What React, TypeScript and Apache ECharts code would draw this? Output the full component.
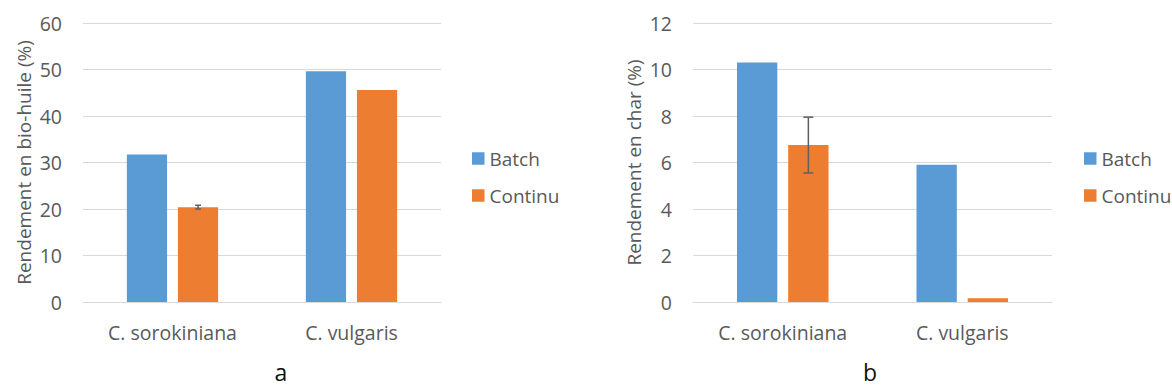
import React, { useEffect, useRef } from "react";
import * as echarts from "echarts";

const categories = ["C. sorokiniana", "C. vulgaris"];
const seriesNames = ["Batch", "Continu"];
const batchA = [31.7, 49.6];
const continuA = [20.4, 45.6];
const continuErrA = [0.4, 0];
const batchB = [10.3, 5.9];
const continuB = [6.75, 0.16];
const continuErrB = [1.2, 0];
const ticksA = { min: 0, max: 60, interval: 10 };
const ticksB = { min: 0, max: 12, interval: 2 };
const yTitleA = "Rendement en bio-huile (%)";
const yTitleB = "Rendement en char (%)";
const panelLabels = ["a", "b"];

const BLUE = "#5B9BD5";
const ORANGE = "#ED7D31";
const TEXT = "#595959";
const GRID = "#D9D9D9";
const FONT = "'Open Sans', 'Noto Sans', sans-serif";
const CAT_GAP = 0.49;
const BAR_GAP = 0.27;

function errSeries(values: number[], errs: number[], axisIdx: number, cap: number) {
  const data = values.map((v, i) => [i, v, errs[i]]);
  return {
    type: "custom",
    xAxisIndex: axisIdx,
    yAxisIndex: axisIdx,
    silent: true,
    z: 10,
    data,
    renderItem: (params: any, api: any) => {
      const i = api.value(0);
      const v = api.value(1);
      const e = api.value(2);
      if (!e) return { type: "group", children: [] };
      const band = api.size([1, 0])[0];
      const w = (band * (1 - CAT_GAP)) / (2 + BAR_GAP);
      const off = (w * (1 + BAR_GAP)) / 2;
      const top = api.coord([i, v + e]);
      const bot = api.coord([i, v - e]);
      const x = top[0] + off;
      const style = { stroke: "#5f5f5f", lineWidth: 1.5 };
      return {
        type: "group",
        children: [
          { type: "line", shape: { x1: x, y1: top[1], x2: x, y2: bot[1] }, style },
          { type: "line", shape: { x1: x - cap, y1: top[1], x2: x + cap, y2: top[1] }, style },
          { type: "line", shape: { x1: x - cap, y1: bot[1], x2: x + cap, y2: bot[1] }, style },
        ],
      };
    },
  };
}

export default function App() {
  const ref = useRef<HTMLDivElement>(null);
  useEffect(() => {
    const chart = echarts.init(ref.current!, null, { renderer: "svg" });
    const xAxisBase = {
      type: "category",
      data: categories,
      axisTick: { show: false },
      axisLine: { lineStyle: { color: GRID, width: 1 } },
      axisLabel: { color: TEXT, fontSize: 19.5, fontFamily: FONT, margin: 20 },
    };
    const yAxisBase = (t: any, name: string, gap: number) => ({
      type: "value",
      min: t.min,
      max: t.max,
      interval: t.interval,
      name,
      nameLocation: "middle",
      nameGap: gap,
      nameTextStyle: { color: TEXT, fontSize: 19, fontFamily: FONT },
      axisLine: { show: false },
      axisTick: { show: false },
      splitLine: { lineStyle: { color: GRID, width: 1 } },
      axisLabel: { color: TEXT, fontSize: 19.5, fontFamily: FONT, margin: 21 },
    });
    const legendBase = (left: number) => ({
      orient: "vertical",
      left,
      top: 144,
      itemWidth: 12.5,
      itemHeight: 12.5,
      itemGap: 18,
      icon: "rect",
      data: seriesNames,
      textStyle: { color: TEXT, fontSize: 19, fontFamily: FONT, lineHeight: 19 },
    });
    const bar = (name: string, data: number[], idx: number, color: string) => ({
      type: "bar",
      name,
      data,
      xAxisIndex: idx,
      yAxisIndex: idx,
      barGap: `${BAR_GAP * 100}%`,
      barCategoryGap: `${CAT_GAP * 100}%`,
      itemStyle: { color },
    });
    const panelText = (text: string, x: number) => ({
      type: "text",
      x,
      y: 372,
      style: {
        text,
        fontSize: 23,
        lineHeight: 23,
        fontFamily: FONT,
        fill: "#111",
        align: "center",
        verticalAlign: "middle",
      },
    });
    chart.setOption({
      animation: false,
      backgroundColor: "#ffffff",
      grid: [
        { left: 83, right: 1172 - 441, top: 23, bottom: 90 },
        { left: 693, right: 1172 - 1052, top: 23, bottom: 90 },
      ],
      xAxis: [
        { ...xAxisBase, gridIndex: 0 },
        { ...xAxisBase, gridIndex: 1 },
      ],
      yAxis: [
        { ...yAxisBase(ticksA, yTitleA, 50), gridIndex: 0 },
        { ...yAxisBase(ticksB, yTitleB, 50), gridIndex: 1 },
      ],
      legend: [legendBase(467), legendBase(1079)],
      series: [
        bar(seriesNames[0], batchA, 0, BLUE),
        bar(seriesNames[1], continuA, 0, ORANGE),
        bar(seriesNames[0], batchB, 1, BLUE),
        bar(seriesNames[1], continuB, 1, ORANGE),
        errSeries(continuA, continuErrA, 0, 3),
        errSeries(continuB, continuErrB, 1, 5),
      ],
      graphic: [panelText(panelLabels[0], 281), panelText(panelLabels[1], 870)],
    });
    return () => chart.dispose();
  }, []);
  return (
    <div
      ref={ref}
      style={{ position: "fixed", left: 0, top: 0, width: 1172, height: 392, background: "#fff" }}
    />
  );
}
